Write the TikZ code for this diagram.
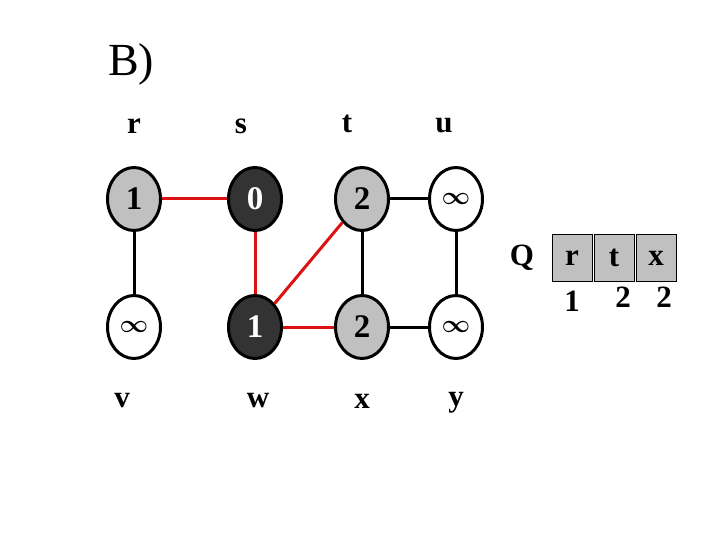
\documentclass[tikz,border=0pt]{standalone}
\usepackage{amsmath,amsbsy}
\usepackage{fontspec}
\setmainfont{Liberation Serif}
\usetikzlibrary{shapes.geometric}
\definecolor{vgray}{HTML}{C0C0C0}
\definecolor{vdark}{HTML}{333333}
\definecolor{tred}{HTML}{DD1111}
\newcommand{\binf}{{\fontsize{23}{25}\selectfont$\boldsymbol{\infty}$}}
\begin{document}
\begin{tikzpicture}[x=1pt,y=-1pt,
  vert/.style={ellipse,draw=black,line width=3pt,minimum width=53pt,minimum height=63pt,inner sep=0pt,font=\fontsize{33}{35}\selectfont\bfseries},
  whitev/.style={vert,fill=white},
  grayv/.style={vert,fill=vgray},
  darkv/.style={vert,fill=vdark,text=white},
  lbl/.style={font=\fontsize{31}{33}\selectfont\bfseries,inner sep=0pt},
  qbox/.style={draw=black,line width=1pt,fill=vgray,minimum width=40pt,minimum height=47pt,inner sep=0pt,font=\fontsize{31}{33}\selectfont\bfseries},
  tree/.style={tred,line width=3pt},
  plain/.style={black,line width=3pt}]
\useasboundingbox (0,0) rectangle (720,540);
\node[font=\fontsize{46}{48}\selectfont,inner sep=0pt] (title) at (131,64) {B)};
% vertex labels
\node[lbl] (lr) at (134,126) {r};
\node[lbl] (ls) at (241,126) {s};
\node[lbl] (lt) at (347,124) {t};
\node[lbl] (lu) at (444,126) {u};
\node[lbl] (lv) at (122,401) {v};
\node[lbl] (lw) at (258,401) {w};
\node[lbl] (lx) at (362,401) {x};
\node[lbl] (ly) at (456,403) {y};
% vertices
\node[grayv] (r) at (134,199) {1};
\node[darkv] (s) at (255,199) {0};
\node[grayv] (t) at (362,199) {2};
\node[whitev] (u) at (456,199) {\binf};
\node[whitev] (v) at (134,327) {\binf};
\node[darkv] (w) at (255,327) {1};
\node[grayv] (x) at (362,327) {2};
\node[whitev] (y) at (456,327) {\binf};
% edges
\draw[tree] (r) -- (s);
\draw[tree] (s) -- (w);
\draw[tree] (w) -- (t);
\draw[tree] (w) -- (x);
\draw[plain] (r) -- (v);
\draw[plain] (t) -- (u);
\draw[plain] (t) -- (x);
\draw[plain] (u) -- (y);
\draw[plain] (x) -- (y);
% queue
\node[lbl] (Q) at (522,258) {Q};
\node[qbox] (q1) at (572,258) {r};
\node[qbox] (q2) at (614,258) {t};
\node[qbox] (q3) at (656,258) {x};
\node[lbl] (d1) at (572,301) {1};
\node[lbl] (d2) at (623,297) {2};
\node[lbl] (d3) at (664,297) {2};
\end{tikzpicture}
\end{document}
